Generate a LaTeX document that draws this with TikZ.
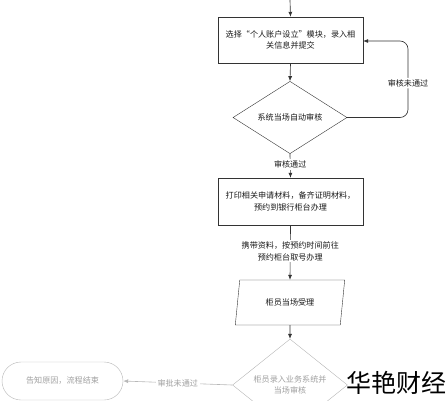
\documentclass[tikz,border=0pt]{standalone}
\usepackage{fontspec}
\setmainfont{Noto Sans CJK SC}
\usetikzlibrary{shapes.geometric,arrows.meta}
\definecolor{lineC}{HTML}{333333}
\definecolor{fadeL}{HTML}{B8B8B8}
\definecolor{fadeT}{HTML}{A0A0A0}
\begin{document}
\begin{tikzpicture}[x=1pt,y=-1pt,
  every node/.style={font=\fontsize{8.1}{11.5}\selectfont, text=black!90},
  procbox/.style={draw=lineC, rectangle, minimum width=145pt, minimum height=46pt, align=center, inner sep=0pt},
  decide/.style={draw=lineC, diamond, minimum width=114pt, minimum height=45pt, inner sep=0pt, align=center},
  para/.style={draw=lineC, trapezium, trapezium left angle=74, trapezium right angle=106, trapezium stretches=true, minimum width=110pt, minimum height=45pt, inner sep=0pt},
  edgelbl/.style={fill=white, align=center, inner sep=1.5pt},
  conn/.style={draw=lineC, line width=0.65pt, -{Latex[length=5pt,width=4pt]}},
  fconn/.style={draw=fadeL, line width=0.6pt, -{Latex[length=5pt,width=4pt]}},
]
\useasboundingbox (0,0) rectangle (447,400);
\fill[white] (0,0) rectangle (447,400);

\coordinate (top) at (290,0);
\node[procbox] (b1) at (290.5,40) {选择“个人账户设立”模块，录入相\\关信息并提交};
\node[decide] (d1) at (290,117.5) {系统当场自动审核};
\node[procbox, minimum height=47pt] (b2) at (290.5,201.5) {打印相关申请材料，备齐证明材料，\\预约到银行柜台办理};
\node[para] (p1) at (290,302.5) {柜员当场受理};
\node[draw=fadeL, diamond, minimum width=115pt, minimum height=54pt, inner sep=0pt, align=center, text=fadeT] (d2) at (290,385) {柜员录入业务系统并\\当场审核};
\node[draw=fadeL, rectangle, rounded corners=19pt, minimum width=121pt, minimum height=38pt, text=fadeT] (t1) at (62.5,381) {告知原因，流程结束};

\draw[conn] (top) -- (b1.north);
\draw[conn] (b1.south) -- (d1.north);
\draw[conn, rounded corners=8pt] (d1.east) -- (408,117.5) -- node[edgelbl, pos=0.45]{审核未通过} (408,41) -- (b1.east |- 0,41);
\draw[conn] (d1.south) -- node[edgelbl, pos=0.45]{审核通过} (b2.north);
\draw[conn] (b2.south) -- node[edgelbl, pos=0.48]{携带资料，按预约时间前往\\预约柜台取号办理} (p1.north);
\draw[conn] (p1.south) -- (d2.north);
\draw[fconn] (d2.west) -- node[edgelbl, text=fadeT, pos=0.5]{审批未通过} (t1.east);

\node[font=\fontsize{25}{25}\selectfont, text=black, inner sep=0pt] (wm) at (396,383) {华艳财经};
\end{tikzpicture}
\end{document}
